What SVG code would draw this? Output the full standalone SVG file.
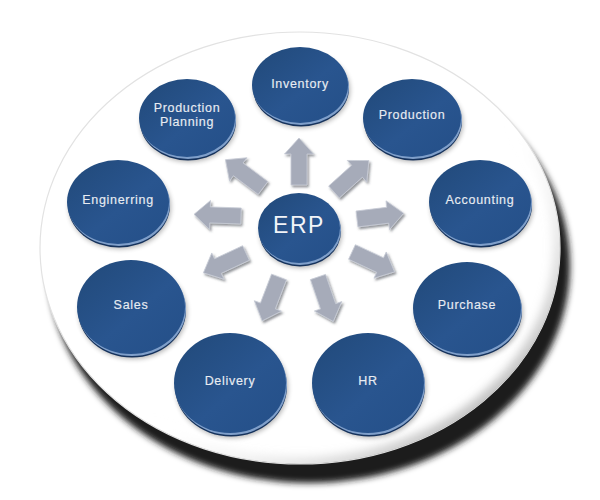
<svg xmlns="http://www.w3.org/2000/svg" xmlns:xlink="http://www.w3.org/1999/xlink" width="600" height="500" viewBox="0 0 600 500">
  <defs>
    <style>
      .face { fill: url(#faceGrad); }
      .rim { fill: #15325c; }
      .hl { fill: #7f9fca; }
      .nsh { fill: #000; opacity: 0.3; filter: url(#blur3); }
      .lbl { font-family: "Liberation Sans", Arial, sans-serif; font-size: 12.5px; letter-spacing: 0.7px; fill: #e8ecf2; text-anchor: middle; stroke: #e8ecf2; stroke-width: 0.15; }
      .erp { font-family: "Liberation Sans", Arial, sans-serif; font-size: 23px; letter-spacing: 1.5px; fill: #f2f4f8; text-anchor: middle; }
      .arrow { fill: #a6abb9; stroke: #c8ccd6; stroke-width: 0.8; stroke-linejoin: miter; }
    </style>
    <linearGradient id="faceGrad" x1="0" y1="0" x2="1" y2="1">
      <stop offset="0" stop-color="#214979"/>
      <stop offset="0.55" stop-color="#29558f"/>
      <stop offset="1" stop-color="#244f88"/>
    </linearGradient>
    <linearGradient id="edgeGrad" x1="0" y1="0" x2="1" y2="1">
      <stop offset="0" stop-color="#ffffff" stop-opacity="0"/>
      <stop offset="0.55" stop-color="#ffffff" stop-opacity="0"/>
      <stop offset="1" stop-color="#7a7a7a" stop-opacity="1"/>
    </linearGradient>
    <filter id="blur3" x="-20%" y="-20%" width="140%" height="140%">
      <feGaussianBlur stdDeviation="2.5"/>
    </filter>
    <filter id="discShadow" x="-10%" y="-10%" width="120%" height="120%">
      <feGaussianBlur stdDeviation="3"/>
    </filter>
    <filter id="edgeBlur" x="-10%" y="-10%" width="120%" height="120%">
      <feGaussianBlur stdDeviation="5"/>
    </filter>
    <filter id="ash" x="-20%" y="-20%" width="140%" height="140%">
      <feDropShadow dx="1.5" dy="2" stdDeviation="1" flood-color="#3a3f4a" flood-opacity="0.55"/>
    </filter>
    <clipPath id="discClip">
      <ellipse cx="300" cy="248" rx="260" ry="216"/>
    </clipPath>
    <path id="arr" d="M0,-8 L31,-8 L31,-14.5 L47,0 L31,14.5 L31,8 L0,8 Z"/>
  </defs>

  <rect width="600" height="500" fill="#ffffff"/>

  <!-- disc -->
  <g id="disc">
    <ellipse cx="309" cy="266" rx="261" ry="217" fill="#1f1f1f" filter="url(#discShadow)"/>
    <ellipse cx="300" cy="248" rx="260" ry="216" fill="#ffffff" stroke="#e2e2e2" stroke-width="1.2"/>
    <g clip-path="url(#discClip)">
      <ellipse cx="300" cy="248" rx="260" ry="216" fill="none" stroke="url(#edgeGrad)" stroke-width="14" filter="url(#edgeBlur)"/>
    </g>
  </g>

  <!-- connectors -->
  <g id="connectors" filter="url(#ash)">
    <use xlink:href="#arr" class="arrow" transform="translate(299,185) rotate(-90)"/>
    <use xlink:href="#arr" class="arrow" transform="translate(334,192) rotate(-42)"/>
    <use xlink:href="#arr" class="arrow" transform="translate(357,219) rotate(-7)"/>
    <use xlink:href="#arr" class="arrow" transform="translate(352,252) rotate(25)"/>
    <use xlink:href="#arr" class="arrow" transform="translate(318,277) rotate(71)"/>
    <use xlink:href="#arr" class="arrow" transform="translate(279,277) rotate(111)"/>
    <use xlink:href="#arr" class="arrow" transform="translate(246,253) rotate(155)"/>
    <use xlink:href="#arr" class="arrow" transform="translate(241,216) rotate(182)"/>
    <use xlink:href="#arr" class="arrow" transform="translate(263,188) rotate(217)"/>
  </g>

  <!-- nodes -->
  <g id="node-erp" transform="translate(299,228)">
    <ellipse class="nsh" cx="2" cy="5" rx="41" ry="35"/>
    <ellipse class="rim" cx="1" cy="3.5" rx="41" ry="35"/>
    <ellipse class="hl" cx="1" cy="2" rx="41" ry="35"/>
    <ellipse class="face" cx="0" cy="0" rx="41" ry="35"/>
    <text class="erp" x="0" y="5">ERP</text>
  </g>

  <g id="node-inventory" transform="translate(300,85)">
    <ellipse class="nsh" cx="2" cy="5" rx="48" ry="38"/>
    <ellipse class="rim" cx="1" cy="3.5" rx="48" ry="38"/>
    <ellipse class="hl" cx="1" cy="2" rx="48" ry="38"/>
    <ellipse class="face" cx="0" cy="0" rx="48" ry="38"/>
    <text class="lbl" x="0" y="2.5">Inventory</text>
  </g>

  <g id="node-production-planning" transform="translate(187,118)">
    <ellipse class="nsh" cx="2" cy="5" rx="48" ry="39"/>
    <ellipse class="rim" cx="1" cy="3.5" rx="48" ry="39"/>
    <ellipse class="hl" cx="1" cy="2" rx="48" ry="39"/>
    <ellipse class="face" cx="0" cy="0" rx="48" ry="39"/>
    <text class="lbl" x="0" y="-6.5">Production</text>
    <text class="lbl" x="0" y="7.5">Planning</text>
  </g>

  <g id="node-production" transform="translate(412,118)">
    <ellipse class="nsh" cx="2" cy="5" rx="49" ry="39"/>
    <ellipse class="rim" cx="1" cy="3.5" rx="49" ry="39"/>
    <ellipse class="hl" cx="1" cy="2" rx="49" ry="39"/>
    <ellipse class="face" cx="0" cy="0" rx="49" ry="39"/>
    <text class="lbl" x="0" y="0.5">Production</text>
  </g>

  <g id="node-engineering" transform="translate(118,202)">
    <ellipse class="nsh" cx="2" cy="5" rx="51" ry="42"/>
    <ellipse class="rim" cx="1" cy="3.5" rx="51" ry="42"/>
    <ellipse class="hl" cx="1" cy="2" rx="51" ry="42"/>
    <ellipse class="face" cx="0" cy="0" rx="51" ry="42"/>
    <text class="lbl" x="0" y="1.5">Enginerring</text>
  </g>

  <g id="node-accounting" transform="translate(480,202)">
    <ellipse class="nsh" cx="2" cy="5" rx="51" ry="42"/>
    <ellipse class="rim" cx="1" cy="3.5" rx="51" ry="42"/>
    <ellipse class="hl" cx="1" cy="2" rx="51" ry="42"/>
    <ellipse class="face" cx="0" cy="0" rx="51" ry="42"/>
    <text class="lbl" x="0" y="1.5">Accounting</text>
  </g>

  <g id="node-sales" transform="translate(131,307)">
    <ellipse class="nsh" cx="2" cy="5" rx="54" ry="47"/>
    <ellipse class="rim" cx="1" cy="3.5" rx="54" ry="47"/>
    <ellipse class="hl" cx="1" cy="2" rx="54" ry="47"/>
    <ellipse class="face" cx="0" cy="0" rx="54" ry="47"/>
    <text class="lbl" x="0" y="1.5">Sales</text>
  </g>

  <g id="node-purchase" transform="translate(467,308)">
    <ellipse class="nsh" cx="2" cy="5" rx="54" ry="46"/>
    <ellipse class="rim" cx="1" cy="3.5" rx="54" ry="46"/>
    <ellipse class="hl" cx="1" cy="2" rx="54" ry="46"/>
    <ellipse class="face" cx="0" cy="0" rx="54" ry="46"/>
    <text class="lbl" x="0" y="0.5">Purchase</text>
  </g>

  <g id="node-delivery" transform="translate(230,383)">
    <ellipse class="nsh" cx="2" cy="5" rx="56" ry="50"/>
    <ellipse class="rim" cx="1" cy="3.5" rx="56" ry="50"/>
    <ellipse class="hl" cx="1" cy="2" rx="56" ry="50"/>
    <ellipse class="face" cx="0" cy="0" rx="56" ry="50"/>
    <text class="lbl" x="0" y="1.5">Delivery</text>
  </g>

  <g id="node-hr" transform="translate(368,383)">
    <ellipse class="nsh" cx="2" cy="5" rx="56" ry="50"/>
    <ellipse class="rim" cx="1" cy="3.5" rx="56" ry="50"/>
    <ellipse class="hl" cx="1" cy="2" rx="56" ry="50"/>
    <ellipse class="face" cx="0" cy="0" rx="56" ry="50"/>
    <text class="lbl" x="0" y="1.5">HR</text>
  </g>
</svg>
